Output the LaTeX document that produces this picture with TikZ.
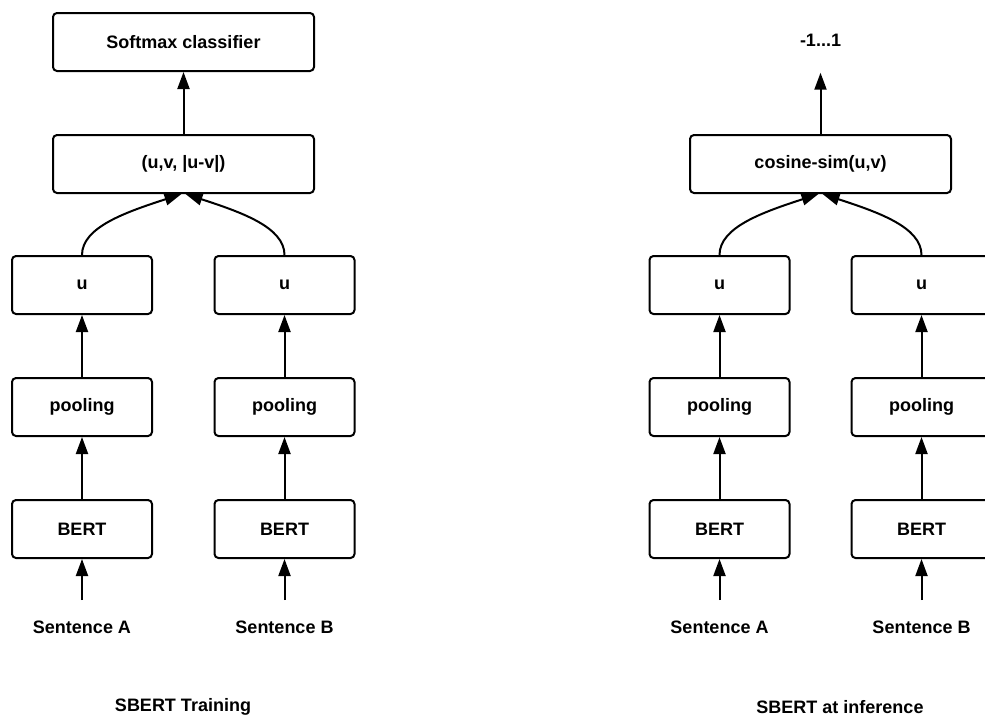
\documentclass[tikz,border=0pt]{standalone}
\usepackage{fontspec}
\setmainfont{Liberation Sans}
\usetikzlibrary{positioning, arrows.meta}

\tikzset{
  block/.style={draw, line width=2pt, rounded corners=4pt,
                minimum width=140pt, minimum height=58pt,
                font=\fontsize{18}{22}\selectfont\bfseries},
  wideblock/.style={block, minimum width=261pt},
  label/.style={font=\fontsize{18}{22}\selectfont\bfseries},
  arr/.style={line width=2pt, -{Triangle[length=17pt, width=12pt]}}
}

\begin{document}
\begin{tikzpicture}[x=1pt, y=-1pt, node distance=62pt]
  \useasboundingbox (0,0) rectangle (985,718);
  \fill[white] (0,0) rectangle (985,718);

  % training
  \node[wideblock] (soft) at (183.5,42) {Softmax classifier};
  \node[wideblock] (concat) at (183.5,164) {(u,v, |u-v|)};
  \node[block] (uA) at (82,285) {u};
  \node[block, below=of uA] (poolA) {pooling};
  \node[block, below=of poolA] (bertA) {BERT};
  \node[label] (sentA) at (82,627) {Sentence A};
  \node[block] (uB) at (284.5,285) {u};
  \node[block, below=of uB] (poolB) {pooling};
  \node[block, below=of poolB] (bertB) {BERT};
  \node[label] (sentB) at (284.5,627) {Sentence B};
  \node[label] (train) at (183,707) {SBERT Training};

  \draw[arr] (concat) -- (soft);
  \draw[arr] (uA.north) .. controls +(0,-28) and +(-55,18) .. ([xshift=-2pt]concat.south);
  \draw[arr] (uB.north) .. controls +(0,-28) and +(55,18) .. ([xshift=2pt]concat.south);
  \foreach \s in {A,B} {
    \draw[arr] (pool\s) -- (u\s);
    \draw[arr] (bert\s) -- (pool\s);
    \draw[arr, shorten <=17pt] (sent\s.north) -- (bert\s);
  }

  % inference
  \node[label] (score) at (820.5,40) {-1...1};
  \node[wideblock] (cos) at (820.5,164) {cosine-sim(u,v)};
  \node[block] (uC) at (719.5,285) {u};
  \node[block, below=of uC] (poolC) {pooling};
  \node[block, below=of poolC] (bertC) {BERT};
  \node[label] (sentC) at (719.5,627) {Sentence A};
  \node[block] (uD) at (921.5,285) {u};
  \node[block, below=of uD] (poolD) {pooling};
  \node[block, below=of poolD] (bertD) {BERT};
  \node[label] (sentD) at (921.5,627) {Sentence B};
  \node[label] (infer) at (840,707) {SBERT at inference};

  \draw[arr, shorten >=23pt] (cos) -- (score);
  \draw[arr] (uC.north) .. controls +(0,-28) and +(-55,18) .. ([xshift=-2pt]cos.south);
  \draw[arr] (uD.north) .. controls +(0,-28) and +(55,18) .. ([xshift=2pt]cos.south);
  \foreach \s in {C,D} {
    \draw[arr] (pool\s) -- (u\s);
    \draw[arr] (bert\s) -- (pool\s);
    \draw[arr, shorten <=17pt] (sent\s.north) -- (bert\s);
  }
\end{tikzpicture}
\end{document}
